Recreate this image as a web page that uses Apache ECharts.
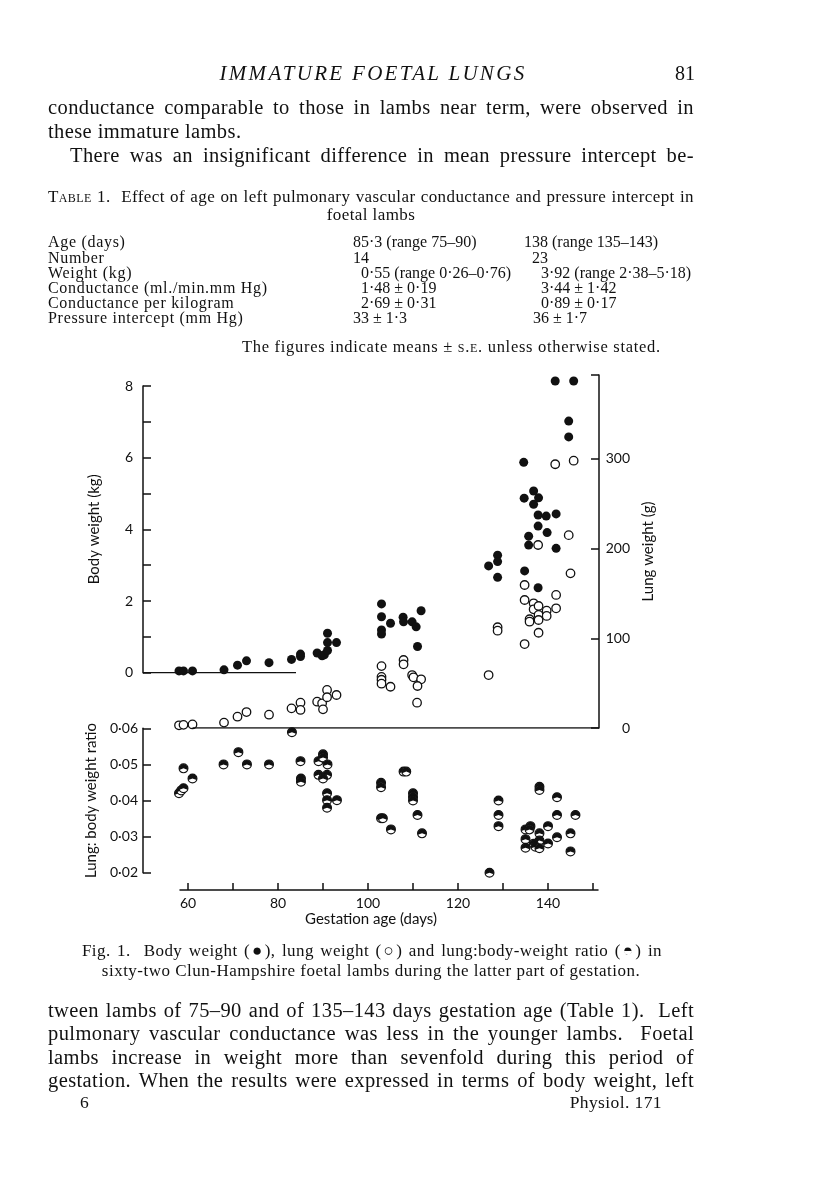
<!DOCTYPE html>
<html>
<head>
<meta charset="utf-8">
<script src="https://cdn.jsdelivr.net/npm/echarts@6/dist/echarts.min.js"></script>
<style>
html, body { margin: 0; padding: 0; background: #fff; }
#page {
  position: relative;
  width: 816px;
  height: 1184px;
  overflow: hidden;
  color: #111;
  font-family: "Liberation Serif", "DejaVu Serif", serif;
}
#chart { position: absolute; left: 0; top: 0; width: 816px; height: 1184px; }
.t { position: absolute; white-space: nowrap; line-height: 24px; }
.prose { font-size: 20.5px; letter-spacing: 0.4px; left: 48px; width: 646px; text-align: justify; text-align-last: justify; white-space: normal; }
.small { font-size: 16px; line-height: 16px; }
.lbl { letter-spacing: 0.7px; }
.cap { font-size: 17px; line-height: 18px; letter-spacing: 0.4px; }
.just { text-align: justify; text-align-last: justify; white-space: normal; }
.sc { font-variant: small-caps; }
</style>
</head>
<body>
<div id="page">
  <div id="chart"></div>

  <div class="t" style="top:61px; left:0; width:746px; text-align:center; font-size:21px; font-style:italic; letter-spacing:2.3px;">IMMATURE FOETAL LUNGS</div>
  <div class="t" style="top:61px; left:600px; width:95px; text-align:right; font-size:20px;">81</div>

  <div class="t prose" style="top:95px;">conductance comparable to those in lambs near term, were observed in</div>
  <div class="t prose" style="top:119px; text-align-last:left;">these immature lambs.</div>
  <div class="t prose" style="top:143px; left:70px; width:624px;">There was an insignificant difference in mean pressure intercept be-</div>

  <div class="t cap just" style="top:188px; left:48px; width:646px;"><span class="sc">Table</span> 1.&nbsp; Effect of age on left pulmonary vascular conductance and pressure intercept in</div>
  <div class="t cap" style="top:206px; left:48px; width:646px; text-align:center;">foetal lambs</div>

  <div class="t small lbl" style="top:234px; left:48px;">Age (days)</div>
  <div class="t small" style="top:234px; left:353px;">85·3 (range 75–90)</div>
  <div class="t small" style="top:234px; left:524px;">138 (range 135–143)</div>
  <div class="t small lbl" style="top:249.5px; left:48px;">Number</div>
  <div class="t small" style="top:249.5px; left:353px;">14</div>
  <div class="t small" style="top:249.5px; left:532px;">23</div>
  <div class="t small lbl" style="top:264.7px; left:48px;">Weight (kg)</div>
  <div class="t small" style="top:264.7px; left:361px;">0·55 (range 0·26–0·76)</div>
  <div class="t small" style="top:264.7px; left:541px;">3·92 (range 2·38–5·18)</div>
  <div class="t small lbl" style="top:280px; left:48px;">Conductance (ml./min.mm Hg)</div>
  <div class="t small" style="top:280px; left:361px;">1·48 ± 0·19</div>
  <div class="t small" style="top:280px; left:541px;">3·44 ± 1·42</div>
  <div class="t small lbl" style="top:295px; left:48px;">Conductance per kilogram</div>
  <div class="t small" style="top:295px; left:361px;">2·69 ± 0·31</div>
  <div class="t small" style="top:295px; left:541px;">0·89 ± 0·17</div>
  <div class="t small lbl" style="top:310px; left:48px;">Pressure intercept (mm Hg)</div>
  <div class="t small" style="top:310px; left:353px;">33 ± 1·3</div>
  <div class="t small" style="top:310px; left:533px;">36 ± 1·7</div>

  <div class="t cap" style="top:338px; left:242px; width:417px; text-align:center; font-size:16.5px; letter-spacing:0.7px;">The figures indicate means ± <span class="sc">s.e.</span> unless otherwise stated.</div>

  <div class="t cap just" style="top:942px; left:82px; width:580px;">Fig. 1.&nbsp; Body weight (●), lung weight (○) and lung:body-weight ratio (◓) in</div>
  <div class="t cap" style="top:962px; left:48px; width:646px; text-align:center; letter-spacing:0.5px;">sixty-two Clun-Hampshire foetal lambs during the latter part of gestation.</div>

  <div class="t prose" style="top:998px;">tween lambs of 75–90 and of 135–143 days gestation age (Table 1).&nbsp; Left</div>
  <div class="t prose" style="top:1021.3px;">pulmonary vascular conductance was less in the younger lambs.&nbsp; Foetal</div>
  <div class="t prose" style="top:1044.7px;">lambs increase in weight more than sevenfold during this period of</div>
  <div class="t prose" style="top:1068px;">gestation. When the results were expressed in terms of body weight, left</div>
  <div class="t cap" style="top:1093px; left:80px; font-size:17.5px;">6</div>
  <div class="t cap" style="top:1093px; left:500px; width:162px; text-align:right; font-size:17.5px;">Physiol. 171</div>
</div>

<script>
// body weight (kg) against gestation age (days)
const bodyWeight = [
  [58, 0.05], [59, 0.05], [61, 0.05],
  [68, 0.08], [71, 0.21], [73, 0.33], [78, 0.28], [83, 0.37], [85, 0.52], [85, 0.45],
  [88.7, 0.55], [89.8, 0.47], [90.3, 0.5], [91, 0.62], [91, 0.84], [91, 1.10], [93, 0.84],
  [103, 1.92], [103, 1.56], [103, 1.19], [103, 1.08], [105, 1.38], [107.8, 1.55], [107.9, 1.42],
  [109.8, 1.42], [110.7, 1.28], [111.8, 1.73], [111, 0.73],
  [126.8, 2.98], [128.8, 3.28], [128.8, 3.10], [128.8, 2.66],
  [134.6, 5.87], [134.7, 4.87], [136.8, 5.07], [137.9, 4.88], [136.8, 4.70], [137.8, 4.40],
  [139.6, 4.37], [141.8, 4.43], [137.8, 4.09], [139.8, 3.91], [135.7, 3.81], [135.7, 3.56],
  [141.8, 3.47], [134.8, 2.84], [137.8, 2.37],
  [141.6, 8.14], [145.7, 8.14], [144.6, 7.02], [144.6, 6.58]
]

// lung weight (g)
const lungWeight = [
  [58, 3], [59, 3.5], [61, 4], [68, 6], [71, 12.6], [73, 17.8], [78, 14.8], [83, 21.9],
  [85, 28.2], [85, 20.1], [88.7, 29.3], [89.8, 27.5], [90, 20.8], [90.9, 42.4], [90.9, 34.3], [93, 36.8],
  [103, 69], [103, 57], [103, 53.8], [103, 49.4], [105, 46], [107.9, 75.8], [107.9, 71],
  [109.8, 59], [110.1, 56.5], [111.8, 54.3], [111, 46.8], [110.9, 28.2],
  [126.8, 59], [128.8, 112.3], [128.8, 108.5],
  [134.8, 159.4], [134.8, 142.7], [134.8, 93.6], [135.9, 121.2], [135.9, 118.5], [136.8, 139],
  [136.8, 132.3], [137.9, 136], [137.9, 126], [137.9, 120.4], [137.9, 106.2], [137.8, 204],
  [139.7, 130.8], [139.7, 124.9], [141.8, 148.3], [141.8, 133.4],
  [141.6, 294], [145.7, 298], [144.6, 215], [145, 172.4]
]

// lung : body weight ratio
const lungRatio = [
  [58, 0.042], [58.5, 0.0428], [59, 0.0434], [59, 0.0489], [61, 0.0461],
  [67.9, 0.05], [71.2, 0.0534], [73.1, 0.05], [78, 0.05], [83.1, 0.0589],
  [85, 0.0509], [85.1, 0.0461], [85.1, 0.0452],
  [89, 0.0509], [90, 0.0528], [90, 0.0519], [91, 0.05], [89, 0.0471], [90.9, 0.0471],
  [90, 0.0461], [90.9, 0.042], [90.9, 0.0401], [90.9, 0.038], [93.1, 0.0401],
  [102.9, 0.0449], [102.9, 0.0437], [102.9, 0.0351], [103.3, 0.0351], [105.1, 0.032],
  [107.9, 0.048], [108.5, 0.048], [110, 0.042], [110, 0.041], [110, 0.04], [111, 0.036], [112, 0.0309],
  [127, 0.02], [129, 0.04], [129, 0.036], [129, 0.0329],
  [138.1, 0.0438], [138.1, 0.0429], [142, 0.0409], [142, 0.036], [146.1, 0.036], [140, 0.0329],
  [135, 0.032], [136.1, 0.0329], [135.9, 0.032], [138.1, 0.0309], [142, 0.0298], [145, 0.0309],
  [135, 0.0293], [138.1, 0.0289], [136.8, 0.028], [137.2, 0.0272], [135, 0.0269], [138.1, 0.0268],
  [140, 0.0281], [145, 0.0259]
]

const dayTicks = [60, 70, 80, 90, 100, 110, 120, 130, 140, 150]
const dayLabels = [60, 80, 100, 120, 140]

// the zero lines drawn inside the two upper panels (days)
const bodyBaseline = [[50, 0], [84, 0]]
const lungBaseline = [[61, 0], [151.33, 0]]

const ink = '#111'
const sans = 'Lato, "Open Sans", sans-serif'
const line = { color: ink, width: 1.5 }
const lab = { color: ink, fontSize: 14, fontFamily: sans }
const nameStyle = { color: ink, fontSize: 15, fontFamily: sans }

// keep the justified lines on one line each
document.querySelectorAll('.prose, .just').forEach((el) => {
  let size = parseFloat(getComputedStyle(el).fontSize)
  while (el.scrollHeight > 28 && size > 12) {
    size -= 0.25
    el.style.fontSize = size + 'px'
  }
})

const chart = echarts.init(document.getElementById('chart'), null, { renderer: 'canvas' })

const hiddenX = (i) => ({
  gridIndex: i, type: 'value', min: 50, max: 151.33, show: false, splitLine: { show: false }
})

const option = {
  animation: false,
  backgroundColor: 'transparent',
  grid: [
    { left: 143, top: 386, width: 456, height: 286.7 },
    { left: 143, top: 375, width: 456, height: 353 },
    { left: 143, top: 728.3, width: 456, height: 144.4 },
    { left: 180, top: 880, width: 418, height: 10 }
  ],
  xAxis: [
    hiddenX(0),
    hiddenX(1),
    {
      gridIndex: 2, type: 'value', min: 50, max: 151.33,
      axisLine: { show: false }, axisTick: { show: false }, axisLabel: { show: false },
      splitLine: { show: false },
      name: 'Gestation age (days)', nameLocation: 'middle', nameGap: 39,
      nameTextStyle: nameStyle
    },
    {
      gridIndex: 3, type: 'value', min: 58.22, max: 151.11,
      axisLine: { lineStyle: line },
      axisTick: { inside: true, length: 7, customValues: dayTicks, lineStyle: line },
      axisLabel: { customValues: dayLabels, margin: 6, ...lab },
      splitLine: { show: false }
    }
  ],
  yAxis: [
    {
      gridIndex: 0, type: 'value', min: 0, max: 8, interval: 1,
      axisLine: { show: true, lineStyle: line },
      axisTick: { show: true, inside: true, length: 8, lineStyle: line },
      axisLabel: { formatter: (v) => (v % 2 === 0 ? String(v) : ''), margin: 10, ...lab },
      splitLine: { show: false },
      name: 'Body weight (kg)', nameLocation: 'middle', nameGap: 41, nameRotate: 90,
      nameTextStyle: nameStyle
    },
    {
      gridIndex: 1, type: 'value', position: 'right', min: 0, max: 393.5, interval: 100,
      axisLine: { show: true, lineStyle: line },
      axisTick: { show: true, inside: true, length: 8, lineStyle: line },
      axisLabel: { align: 'right', margin: 31, formatter: (v) => (v % 100 === 0 ? String(v) : ''), ...lab },
      splitLine: { show: false },
      name: 'Lung weight (g)', nameLocation: 'middle', nameGap: 40, nameRotate: 90,
      nameTextStyle: nameStyle
    },
    {
      gridIndex: 2, type: 'value', min: 0.02, max: 0.06, interval: 0.01,
      axisLine: { show: true, lineStyle: line },
      axisTick: { show: true, inside: true, length: 8, lineStyle: line },
      axisLabel: { formatter: (v) => v.toFixed(2).replace('.', '·'), margin: 5, ...lab },
      splitLine: { show: false },
      name: 'Lung: body weight ratio', nameLocation: 'middle', nameGap: 41, nameRotate: 90,
      nameTextStyle: nameStyle
    },
    { gridIndex: 3, type: 'value', min: 0, max: 1, show: false, splitLine: { show: false } }
  ],
  series: [
    {
      type: 'line', xAxisIndex: 0, yAxisIndex: 0, data: bodyBaseline,
      symbol: 'none', silent: true, lineStyle: { color: ink, width: 1.4 }
    },
    {
      type: 'line', xAxisIndex: 1, yAxisIndex: 1, data: lungBaseline,
      symbol: 'none', silent: true, lineStyle: { color: ink, width: 1.4 }
    },
    {
      name: 'Lung weight', type: 'scatter', xAxisIndex: 1, yAxisIndex: 1, clip: false,
      data: lungWeight, symbol: 'circle', symbolSize: 8.5,
      itemStyle: { color: '#fff', borderColor: ink, borderWidth: 1.3, opacity: 1 }
    },
    {
      name: 'Body weight', type: 'scatter', xAxisIndex: 0, yAxisIndex: 0, clip: false,
      data: bodyWeight, symbol: 'circle', symbolSize: 9,
      itemStyle: { color: ink, opacity: 1 }
    },
    {
      name: 'Lung:body weight ratio', type: 'custom', xAxisIndex: 2, yAxisIndex: 2, clip: false,
      data: lungRatio,
      encode: { x: 0, y: 1 },
      renderItem: (params, api) => {
        const p = api.coord([api.value(0), api.value(1)])
        const r = 4.4
        return {
          type: 'group',
          children: [
            { type: 'circle', shape: { cx: p[0], cy: p[1], r: r }, style: { fill: '#fff', stroke: ink, lineWidth: 1.2 } },
            {
              type: 'sector',
              shape: { cx: p[0], cy: p[1], r0: 0, r: r, startAngle: Math.PI - 0.35, endAngle: Math.PI * 2 + 0.35, clockwise: true },
              style: { fill: ink }
            }
          ]
        }
      }
    }
  ]
}

chart.setOption(option)
</script>
</body>
</html>
